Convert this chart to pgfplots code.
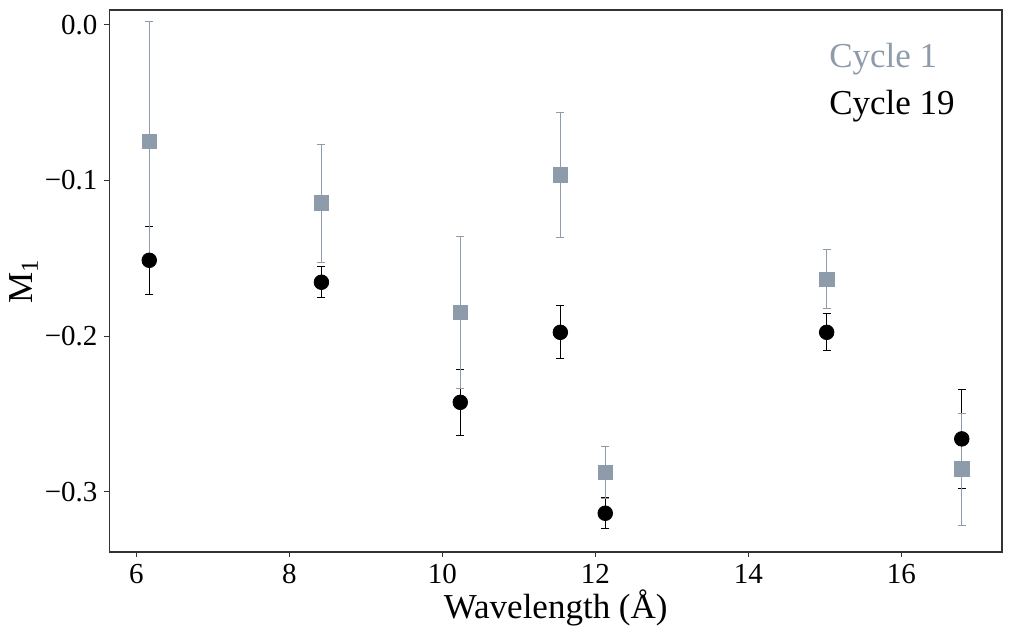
\documentclass[border=0pt]{standalone}
\usepackage{fontspec}
\setmainfont{Liberation Serif}
\usepackage{pgfplots}
\pgfplotsset{compat=1.18}
\definecolor{cyc1}{HTML}{8E9BAA}
\definecolor{frame}{HTML}{333333}
\begin{document}
\begin{tikzpicture}
\begin{axis}[
  at={(0,0)}, anchor=south west,
  scale only axis, width=446.25pt, height=271pt,
  xmin=5.65, xmax=17.316, ymin=-0.3388, ymax=0.0096,
  xtick={6,8,10,12,14,16}, xticklabels={6,8,10,12,14,16},
  ytick={-0.3,-0.2,-0.1,0}, yticklabels={−0.3,−0.2,−0.1,0.0},
  tick align=outside, tick pos=left,
  major tick length=2.5pt,
  axis line style={frame, line width=0.6pt},
  tick style={frame, line width=0.5pt},
  tick label style={font=\fontsize{14.5}{16}\selectfont},
  label style={font=\fontsize{17.5}{20}\selectfont},
  xlabel={Wavelength (Å)},
  ylabel={M\textsubscript{1}},
  xlabel style={at={(axis description cs:0.5,-0.103)}, anchor=center},
  ylabel style={at={(axis description cs:-0.096,0.5)}, anchor=center},
  clip=false,
]
\addplot[only marks, black, mark=*, mark size=3.65pt,
  error bars/.cd, y dir=both, y explicit,
  error bar style={black, line width=0.5pt},
  error mark options={rotate=90, black, mark size=2pt, line width=0.5pt}]
  table[x=x, y=y, y error=e] {
  x y e
  6.17 -0.1513 0.022
  8.42 -0.1654 0.010
  10.235 -0.2426 0.0212
  11.543 -0.1976 0.017
  12.13 -0.3139 0.010
  15.024 -0.1976 0.012
  16.79 -0.2661 0.032
  };
\addplot[only marks, cyc1, mark=square*, mark size=3.67pt,
  mark options={draw=none, fill=cyc1},
  error bars/.cd, y dir=both, y explicit,
  error bar style={cyc1, line width=0.5pt},
  error mark options={rotate=90, cyc1, mark size=2pt, line width=0.5pt}]
  table[x=x, y=y, y error=e] {
  x y e
  6.17 -0.0748 0.077
  8.42 -0.1146 0.038
  10.235 -0.1847 0.049
  11.543 -0.0966 0.040
  12.13 -0.2876 0.0167
  15.024 -0.1635 0.019
  16.79 -0.2856 0.036
  };
\node[anchor=west, text=cyc1, font=\fontsize{17.5}{20}\selectfont, inner sep=0pt] at (rel axis cs:0.806,0.909) {Cycle 1};
\node[anchor=west, text=black, font=\fontsize{17.5}{20}\selectfont, inner sep=0pt] at (rel axis cs:0.806,0.823) {Cycle 19};
\end{axis}
\pgfresetboundingbox
\path (-54.75pt,-41.5pt) rectangle (451.25pt,276pt);
\end{tikzpicture}
\end{document}
